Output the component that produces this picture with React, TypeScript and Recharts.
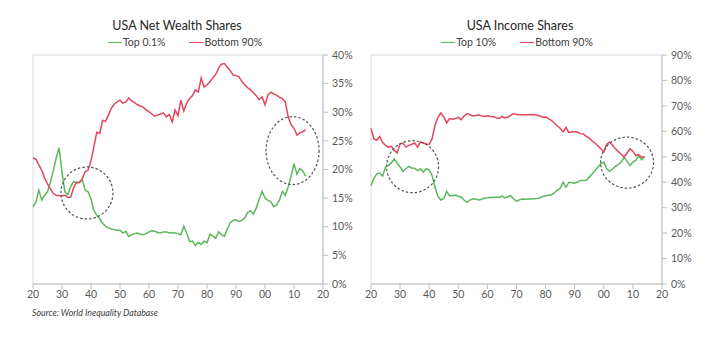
import React from 'react';
import { LineChart, Line, XAxis, YAxis, ReferenceArea, ReferenceDot } from 'recharts';

// annual values 1920..2014
const firstYear = 1920;

const wealthTop01 = [
  13.5, 14.3, 16.4, 14.7, 15.5, 16.1, 17.8, 19.8, 22.0, 23.8,
  19.5, 16.1, 15.6, 17.0, 17.9, 17.6, 17.8, 18.2, 16.4, 16.1,
  14.8, 12.8, 12.0, 11.4, 10.6, 10.1, 9.8, 9.6, 9.5, 9.4,
  9.4, 8.9, 9.2, 8.3, 8.6, 8.8, 8.9, 8.7, 8.6, 8.8,
  9.1, 9.3, 9.2, 9.0, 8.9, 9.1, 9.1, 8.9, 9.0, 8.9,
  8.8, 8.6, 10.1, 8.9, 7.4, 7.5, 6.7, 7.3, 6.9, 7.5,
  7.2, 8.7, 8.4, 8.0, 9.1, 8.6, 8.3, 9.6, 10.7, 11.1,
  11.2, 10.9, 11.1, 11.5, 12.5, 12.8, 12.2, 13.3, 14.8, 16.2,
  15.0, 14.6, 14.4, 13.5, 13.8, 14.7, 16.2, 15.5, 17.0, 18.8,
  21.0, 19.2, 20.2, 19.8, 18.8,
];

const wealthBottom90 = [
  22.0, 21.8, 20.8, 19.9, 18.5, 17.5, 16.6, 15.8, 15.5, 15.4,
  15.4, 15.5, 15.1, 15.2, 16.8, 17.8, 17.7, 18.4, 19.6, 19.9,
  21.5, 24.0, 26.5, 26.3, 28.6, 28.4, 29.5, 30.7, 31.4, 31.8,
  32.1, 31.6, 31.8, 32.5, 32.0, 31.7, 31.3, 31.1, 30.9, 30.4,
  30.1, 29.7, 29.3, 29.5, 29.7, 29.9, 29.2, 29.6, 28.3, 30.4,
  29.4, 32.1, 30.2, 31.6, 32.4, 32.9, 33.9, 33.5, 36.0, 34.4,
  34.8, 35.3, 36.0, 36.6, 37.7, 38.4, 38.5, 37.9, 37.3, 36.5,
  36.4, 36.2, 35.4, 34.8, 34.3, 33.9, 33.4, 32.9, 32.2, 32.7,
  31.3, 33.0, 33.5, 33.2, 33.0, 32.6, 32.4, 31.8, 29.2, 27.8,
  27.2, 26.0, 26.4, 26.6, 26.9,
];

const incomeTop10 = [
  38.7, 41.5, 43.3, 43.6, 42.4, 46.0, 46.6, 47.6, 49.2, 47.5,
  46.0, 44.3, 45.3, 46.2, 45.6, 45.5, 44.6, 45.3, 44.0, 45.3,
  44.8, 42.6, 38.0, 34.5, 33.0, 33.5, 36.4, 34.7, 34.7, 35.0,
  34.5, 34.1, 33.0, 32.1, 33.0, 33.5, 33.4, 33.0, 33.3, 33.8,
  33.9, 34.1, 34.0, 34.2, 34.0, 34.5, 33.8, 34.3, 34.7, 33.5,
  32.5, 33.1, 33.4, 33.3, 33.4, 33.4, 33.5, 33.6, 33.8, 34.4,
  34.7, 34.9, 35.1, 35.8, 36.8, 37.6, 40.0, 38.0, 40.0, 39.8,
  39.6, 40.1, 40.7, 40.7, 40.8, 42.0, 43.2, 44.6, 46.0, 47.3,
  47.9, 45.3, 44.3, 45.2, 46.2, 47.0, 47.9, 49.9, 48.2, 46.6,
  47.9, 48.6, 50.5, 48.8, 50.1,
];

const incomeBottom90 = [
  61.1, 57.0, 56.5, 58.0, 55.6, 54.5, 53.8, 54.1, 52.5, 51.5,
  55.1, 55.3, 53.8, 54.5, 54.9, 55.4, 53.8, 55.8, 55.4, 55.0,
  54.9, 57.1, 62.4, 65.5, 67.2, 65.7, 63.3, 65.0, 64.8, 65.0,
  65.5, 64.6, 66.0, 67.0, 66.5, 66.0, 66.2, 66.5, 66.0, 65.8,
  66.1, 65.8, 65.7, 65.4, 65.0, 65.9, 65.3, 65.5, 66.3, 67.0,
  66.6, 66.5, 66.5, 66.5, 66.5, 66.6, 66.5, 66.4, 66.0, 65.5,
  65.6, 65.0, 64.3, 63.3, 62.2, 61.2, 59.8, 61.5, 59.5, 59.8,
  59.8, 59.7, 59.1, 59.0, 58.0, 57.3, 56.2, 55.4, 54.3, 53.2,
  51.8, 54.9, 55.8, 54.5, 53.2, 52.0, 51.0, 49.9, 51.5, 53.2,
  52.2, 50.5, 50.9, 49.9, 49.9,
];

const yearTicks = [1920, 1930, 1940, 1950, 1960, 1970, 1980, 1990, 2000, 2010, 2020];
const wealthTicks = [0, 5, 10, 15, 20, 25, 30, 35, 40];
const incomeTicks = [0, 10, 20, 30, 40, 50, 60, 70, 80, 90];

// highlighted areas: [year, value]
const wealthCircles = [[1938.6, 15.9], [2009.5, 23.3]];
const incomeCircles = [[1934.3, 46.1], [2008.0, 47.7]];

const GREEN = '#5cb85c';
const RED = '#e2475e';
const AXIS = '#bfbfbf';
const TEXT = '#595959';
const FONT = 'Lato, "Open Sans", sans-serif';

const build = (top: number[], bottom: number[]) =>
  top.map((v, i) => ({ year: firstYear + i, top: v, bottom: bottom[i] }));

const wealthData = build(wealthTop01, wealthBottom90);
const incomeData = build(incomeTop10, incomeBottom90);

const fmtYear = (y: number) => String(y % 100).padStart(2, '0');

const LegendLine = ({ items }: { items: { name: string; color: string }[] }) => (
  <div style={{ display: 'flex', justifyContent: 'center', fontSize: 10.5, color: '#404040', fontFamily: FONT }}>
    {items.map((p, i) => (
      <span key={i} style={{ display: 'flex', alignItems: 'center', marginLeft: i ? 24 : 0 }}>
        <span style={{ display: 'inline-block', width: 14, borderTop: `1.5px solid ${p.color}`, marginRight: 1 }} />
        {p.name}
      </span>
    ))}
  </div>
);

const dashedEllipse = (rx: number, ry: number) => (props: any) => (
  <ellipse cx={props.cx} cy={props.cy} rx={rx} ry={ry} fill="none" stroke="#555" strokeWidth={1.2} strokeDasharray="2.5 2" />
);

interface PanelProps {
  title: string;
  data: any[];
  topName: string;
  yMax: number;
  yTicks: number[];
  circles: number[][];
  ellipses: number[][];
  left: number;
  width: number;
  marginLeft: number;
  axisWidth: number;
  titleCenter: number;
  legendCenter: number;
}

const Panel = (p: PanelProps) => (
  <div style={{ position: 'absolute', left: p.left, top: 0, width: p.width, height: 354 }}>
    <div style={{ position: 'absolute', top: 18, left: p.titleCenter - 100, width: 200, textAlign: 'center', fontSize: 12.5, color: '#262626', fontFamily: FONT }}>
      {p.title}
    </div>
    <div style={{ position: 'absolute', top: 36, left: p.legendCenter - 150, width: 300 }}>
      <LegendLine items={[{ name: p.topName, color: GREEN }, { name: 'Bottom 90%', color: RED }]} />
    </div>
    <LineChart width={p.width} height={354} data={p.data} margin={{ top: 55, right: 0, left: p.marginLeft, bottom: 50 }}>
      <ReferenceArea x1={1920} x2={2020} y1={0} y2={p.yMax} fill="none" stroke="#d9d9d9" />
      <XAxis
        dataKey="year"
        type="number"
        domain={[1920, 2020]}
        ticks={yearTicks}
        tickFormatter={fmtYear}
        stroke={AXIS}
        tickSize={5}
        tickMargin={2}
        height={20}
        tick={{ fill: TEXT, fontSize: 10.5, fontFamily: FONT }}
      />
      <YAxis
        orientation="right"
        domain={[0, p.yMax]}
        ticks={p.yTicks}
        tickFormatter={(v: number) => `${v}%`}
        stroke={AXIS}
        tickSize={5}
        tickMargin={4}
        width={p.axisWidth}
        interval={0}
        tick={{ fill: TEXT, fontSize: 10.5, fontFamily: FONT, textAnchor: 'start' }}
      />
      <Line dataKey="top" name={p.topName} stroke={GREEN} strokeWidth={1.5} dot={false} isAnimationActive={false} />
      <Line dataKey="bottom" name="Bottom 90%" stroke={RED} strokeWidth={1.5} dot={false} isAnimationActive={false} />
      {p.circles.map((c, i) => (
        <ReferenceDot key={i} x={c[0]} y={c[1]} r={26} shape={dashedEllipse(p.ellipses[i][0], p.ellipses[i][1])} />
      ))}
    </LineChart>
  </div>
);

export default function App() {
  return (
    <div style={{ position: 'absolute', left: 0, top: 0, width: 715, height: 354, background: '#fff', fontFamily: FONT }}>
      <Panel
        title="USA Net Wealth Shares"
        data={wealthData}
        topName="Top 0.1%"
        yMax={40}
        yTicks={wealthTicks}
        circles={wealthCircles}
        ellipses={[[26, 26], [26.5, 34]]}
        left={0}
        width={357}
        marginLeft={33}
        axisWidth={34}
        titleCenter={177}
        legendCenter={185}
      />
      <Panel
        title="USA Income Shares"
        data={incomeData}
        topName="Top 10%"
        yMax={90}
        yTicks={incomeTicks}
        circles={incomeCircles}
        ellipses={[[26, 26], [26.5, 25.5]]}
        left={357}
        width={358}
        marginLeft={14}
        axisWidth={53}
        titleCenter={163}
        legendCenter={160}
      />
      <div style={{ position: 'absolute', left: 32, top: 307, fontSize: 8.8, fontStyle: 'italic', color: '#404040', fontFamily: FONT }}>
        Source: World Inequality Database
      </div>
    </div>
  );
}
